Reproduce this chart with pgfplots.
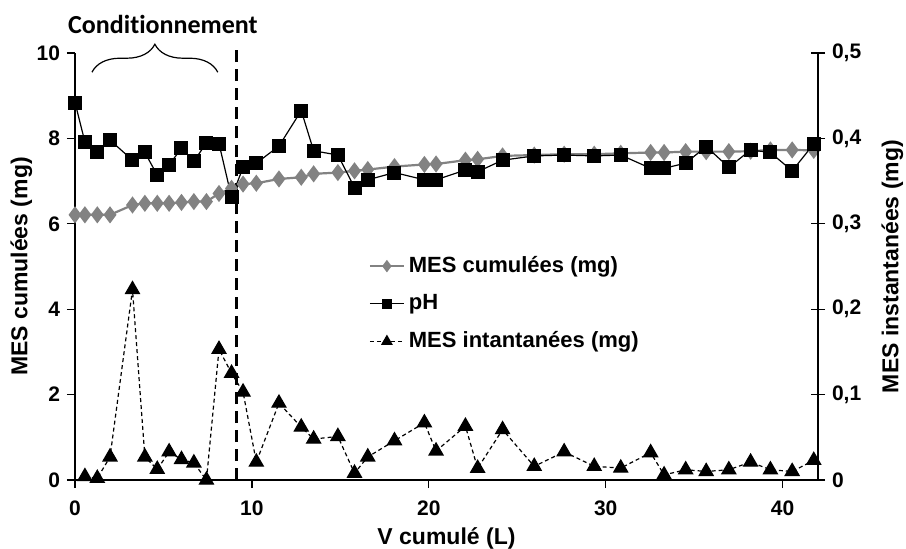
\documentclass[border=0pt]{standalone}
\usepackage{fontspec}
\setmainfont{Liberation Sans}
\newfontfamily\calibri[Ligatures=NoCommon]{Carlito}
\usepackage{pgfplots}
\pgfplotsset{compat=1.18}
\usetikzlibrary{decorations.pathreplacing}
\definecolor{mesgray}{RGB}{130,130,130}
\begin{document}
\begin{tikzpicture}
\pgfplotsset{
  every axis/.append style={scale only axis, width=371.5pt, height=213.5pt, xmin=0, xmax=42,
    font=\bfseries\fontsize{11.5}{13.8}\selectfont,
    /pgf/number format/assume math mode=true,
    tick label style={font=\bfseries\fontsize{10.5}{12.6}\selectfont},
    major tick length=4pt, tick style={black, line width=0.6pt},
    axis line style={line width=0.6pt}}
}
\begin{axis}[name=ax1, axis x line*=bottom, axis y line*=left,
  ymin=0, ymax=10, ytick={0,2,4,6,8,10}, xtick={0,10,20,30,40},
  tick align=outside, clip=false,
  xticklabel style={yshift=-3pt},
  xlabel={V cumulé (L)}, ylabel={MES cumulées (mg)},
  xlabel style={at={(axis description cs:0.5,-0.136)}, anchor=center},
  ylabel style={at={(axis description cs:-0.072,0.5)}, anchor=center}]
\addplot[mesgray, line width=1.1pt, mark=diamond*, mark size=3.4pt, mark options={fill=mesgray, draw=mesgray}] coordinates {
(0,6.21)(0.56,6.21)(1.26,6.21)(1.98,6.21)(3.25,6.44)(3.95,6.48)(4.65,6.48)(5.32,6.48)(6.02,6.50)(6.72,6.52)(7.43,6.52)(8.14,6.71)(8.85,6.83)(9.50,6.93)(10.25,6.95)(11.53,7.05)(12.79,7.09)(13.49,7.17)(14.86,7.20)(15.80,7.24)(16.55,7.27)(18.06,7.34)(19.75,7.39)(20.41,7.40)(22.07,7.49)(22.76,7.51)(24.17,7.59)(25.96,7.61)(27.65,7.63)(29.35,7.63)(30.85,7.65)(32.54,7.67)(33.30,7.67)(34.52,7.69)(35.68,7.69)(36.96,7.69)(38.19,7.70)(39.31,7.73)(40.54,7.73)(41.76,7.72)};
\addplot[black, line width=0.6pt, mark=square*, mark size=3.2pt, mark options={fill=black, solid}] coordinates {
(0,8.84)(0.56,7.92)(1.26,7.67)(1.98,7.96)(3.25,7.49)(3.95,7.67)(4.65,7.14)(5.32,7.38)(6.02,7.77)(6.72,7.46)(7.43,7.90)(8.14,7.88)(8.85,6.62)(9.50,7.32)(10.25,7.42)(11.53,7.82)(12.79,8.65)(13.49,7.71)(14.86,7.61)(15.80,6.85)(16.55,7.03)(18.06,7.20)(19.75,7.03)(20.41,7.03)(22.07,7.26)(22.76,7.22)(24.17,7.49)(25.96,7.59)(27.65,7.61)(29.35,7.59)(30.85,7.61)(32.54,7.30)(33.30,7.30)(34.52,7.42)(35.68,7.81)(36.96,7.32)(38.19,7.73)(39.31,7.67)(40.54,7.24)(41.76,7.87)};
\draw[black, line width=1.4pt, dash pattern=on 6pt off 3.5pt] (axis cs:9.12,0) -- (axis cs:9.12,10.2);
\draw[decorate, decoration={brace, amplitude=14pt}, line width=0.6pt] (axis cs:0.96,9.55) -- (axis cs:8.07,9.55);
\node[font=\calibri\bfseries\fontsize{13}{15}\selectfont] at (axis cs:4.97,10.66) {Conditionnement};
\end{axis}
\begin{axis}[axis y line*=right, axis x line=none,
  ymin=0, ymax=0.5, ytick={0,0.1,0.2,0.3,0.4,0.5},
  yticklabels={0,{0,1},{0,2},{0,3},{0,4},{0,5}},
  tick align=center, major tick length=7pt,
  ylabel={MES instantanées (mg)},
  ylabel style={at={(axis description cs:1.1,0.5)}, anchor=center, rotate=0},
  legend style={draw=none, fill=none, at={(axis description cs:0.387,0.543)}, anchor=north west, row sep=5.5pt, font=\bfseries\fontsize{11}{13.2}\selectfont},
  legend cell align=left]
\addplot[forget plot, black, line width=0.6pt, dash pattern=on 2pt off 1.5pt, mark=triangle*, mark size=4pt, mark options={fill=black, solid}] coordinates {
(0.56,0.004)(1.26,0.002)(1.98,0.027)(3.25,0.223)(3.95,0.027)(4.65,0.0125)(5.32,0.033)(6.02,0.024)(6.72,0.020)(7.43,0.0)(8.14,0.153)(8.85,0.125)(9.50,0.103)(10.25,0.021)(11.53,0.090)(12.79,0.062)(13.49,0.048)(14.86,0.051)(15.80,0.008)(16.55,0.027)(18.06,0.046)(19.75,0.067)(20.41,0.034)(22.07,0.063)(22.76,0.0137)(24.17,0.059)(25.96,0.016)(27.65,0.033)(29.35,0.016)(30.85,0.014)(32.54,0.032)(33.30,0.006)(34.52,0.012)(35.68,0.010)(36.96,0.012)(38.19,0.021)(39.31,0.012)(40.54,0.010)(41.76,0.023)};
\addlegendimage{mesgray, line width=0.9pt, mark=diamond*, mark size=2.4pt, mark options={fill=mesgray, draw=mesgray}}
\addlegendentry{MES cumulées (mg)}
\addlegendimage{black, line width=0.6pt, mark=square*, mark size=2.3pt, mark options={fill=black, solid}}
\addlegendentry{pH}
\addlegendimage{black, line width=0.6pt, dash pattern=on 2pt off 1.5pt, mark=triangle*, mark size=2.8pt, mark options={fill=black, solid}}
\addlegendentry{MES intantanées (mg)}
\end{axis}
\pgfresetboundingbox
\path[use as bounding box] ([xshift=-37.5pt,yshift=-34pt]ax1.south west) rectangle ([xshift=44pt,yshift=26.5pt]ax1.north east);
\end{tikzpicture}
\end{document}
